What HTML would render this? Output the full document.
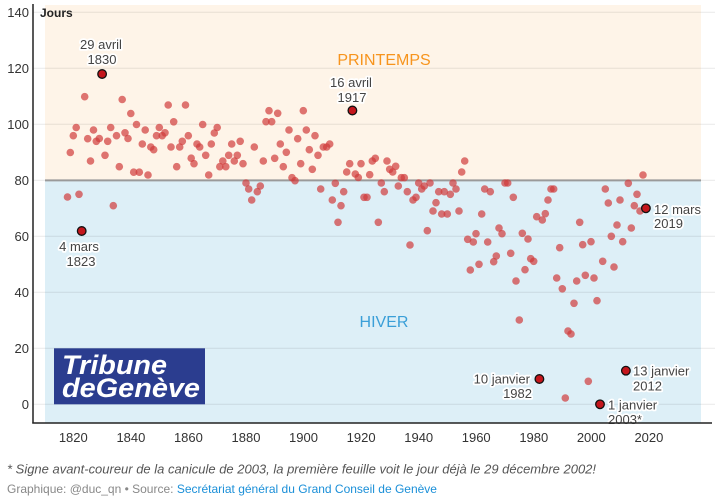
<!DOCTYPE html>
<html><head><meta charset="utf-8"><style>
html,body{margin:0;padding:0;background:#fff;}
svg{display:block;}
text{font-family:"Liberation Sans",sans-serif;}
.t{font-size:13px;fill:#333;}
.lab{font-size:13px;fill:#444;stroke:#fff;stroke-width:3.5px;paint-order:stroke;stroke-linejoin:round;}
</style></head><body>
<svg width="715" height="502" viewBox="0 0 715 502" xmlns="http://www.w3.org/2000/svg">
<rect x="0" y="0" width="715" height="502" fill="#fff"/>
<rect x="45" y="5" width="656" height="175.5" fill="#fef4e8"/>
<rect x="45" y="180.5" width="656" height="242.5" fill="#ddeff7"/>
<g stroke="#000" stroke-opacity="0.09" stroke-width="1">
<line x1="33" y1="12.3" x2="715" y2="12.3"/>
<line x1="33" y1="68.3" x2="715" y2="68.3"/>
<line x1="33" y1="124.3" x2="715" y2="124.3"/>
<line x1="33" y1="180.3" x2="45" y2="180.3"/>
<line x1="701" y1="180.3" x2="715" y2="180.3"/>
<line x1="33" y1="236.3" x2="715" y2="236.3"/>
<line x1="33" y1="292.3" x2="715" y2="292.3"/>
<line x1="33" y1="348.3" x2="715" y2="348.3"/>
<line x1="33" y1="404.3" x2="715" y2="404.3"/>
</g>
<line x1="45" y1="180.4" x2="701" y2="180.4" stroke="#9a9a9a" stroke-width="2"/>
<text x="384" y="65" text-anchor="middle" style="font-size:16px;fill:#f7941d;">PRINTEMPS</text>
<text x="384" y="327" text-anchor="middle" style="font-size:16px;fill:#3a9fd8;">HIVER</text>
<rect x="54" y="348.3" width="151" height="56" fill="#2b3d8f"/>
<text x="62" y="374" textLength="105" lengthAdjust="spacingAndGlyphs" style="font-size:27px;font-weight:bold;font-style:italic;fill:#fff;">Tribune</text>
<text x="62" y="397" textLength="138" lengthAdjust="spacingAndGlyphs" style="font-size:27px;font-weight:bold;font-style:italic;fill:#fff;">deGenève</text>
<g fill="#d03c3c" fill-opacity="0.7">
<circle cx="67.5" cy="197" r="3.8"/><circle cx="70.3" cy="152.5" r="3.8"/><circle cx="73.3" cy="135.7" r="3.8"/><circle cx="76.2" cy="127.5" r="3.8"/><circle cx="79" cy="194.3" r="3.8"/>
<circle cx="84.7" cy="96.7" r="3.8"/><circle cx="87.7" cy="138.7" r="3.8"/><circle cx="90.5" cy="161" r="3.8"/><circle cx="93.5" cy="130" r="3.8"/><circle cx="96.3" cy="141.3" r="3.8"/><circle cx="99.3" cy="138.5" r="3.8"/>
<circle cx="105" cy="155.3" r="3.8"/><circle cx="107.7" cy="141.3" r="3.8"/><circle cx="110.7" cy="127.5" r="3.8"/><circle cx="113.3" cy="205.7" r="3.8"/><circle cx="116.5" cy="135.7" r="3.8"/><circle cx="119.3" cy="166.7" r="3.8"/><circle cx="122.2" cy="99.5" r="3.8"/><circle cx="125" cy="132.8" r="3.8"/><circle cx="128" cy="138.5" r="3.8"/><circle cx="130.8" cy="113.5" r="3.8"/><circle cx="133.7" cy="172.2" r="3.8"/><circle cx="136.5" cy="124.5" r="3.8"/><circle cx="139.3" cy="172.2" r="3.8"/><circle cx="142.3" cy="144" r="3.8"/><circle cx="145.2" cy="130" r="3.8"/><circle cx="148" cy="175" r="3.8"/><circle cx="150.8" cy="147" r="3.8"/><circle cx="153.7" cy="149.7" r="3.8"/><circle cx="156.5" cy="135.7" r="3.8"/><circle cx="159.3" cy="127.5" r="3.8"/><circle cx="162.2" cy="135.7" r="3.8"/><circle cx="165" cy="132.8" r="3.8"/><circle cx="168.2" cy="105" r="3.8"/><circle cx="171" cy="147" r="3.8"/><circle cx="173.7" cy="121.8" r="3.8"/><circle cx="176.7" cy="166.7" r="3.8"/><circle cx="179.7" cy="147" r="3.8"/><circle cx="182.3" cy="141.3" r="3.8"/><circle cx="185.5" cy="105" r="3.8"/><circle cx="188.3" cy="135.7" r="3.8"/><circle cx="191.2" cy="158.2" r="3.8"/><circle cx="194" cy="163.7" r="3.8"/><circle cx="197" cy="144" r="3.8"/><circle cx="199.7" cy="147" r="3.8"/>
<circle cx="202.7" cy="124.5" r="3.8"/><circle cx="205.7" cy="155.3" r="3.8"/><circle cx="208.7" cy="175" r="3.8"/><circle cx="211.3" cy="144" r="3.8"/><circle cx="214.3" cy="133" r="3.8"/><circle cx="217.2" cy="127.5" r="3.8"/><circle cx="219.8" cy="166.7" r="3.8"/><circle cx="222.8" cy="161" r="3.8"/><circle cx="225.8" cy="166.7" r="3.8"/><circle cx="228.7" cy="155.3" r="3.8"/><circle cx="231.7" cy="144" r="3.8"/><circle cx="234.3" cy="161" r="3.8"/><circle cx="237.3" cy="155.3" r="3.8"/><circle cx="240.2" cy="141.3" r="3.8"/><circle cx="243" cy="163.7" r="3.8"/><circle cx="246" cy="183" r="3.8"/><circle cx="248.7" cy="189" r="3.8"/><circle cx="251.7" cy="200" r="3.8"/><circle cx="254.3" cy="147" r="3.8"/><circle cx="257.3" cy="191.7" r="3.8"/><circle cx="260.3" cy="186" r="3.8"/><circle cx="263.3" cy="161" r="3.8"/><circle cx="266" cy="121.7" r="3.8"/><circle cx="269" cy="110.7" r="3.8"/><circle cx="271.7" cy="121.7" r="3.8"/><circle cx="274.7" cy="158.3" r="3.8"/><circle cx="277.7" cy="113.3" r="3.8"/><circle cx="280.3" cy="144" r="3.8"/><circle cx="283.3" cy="166.7" r="3.8"/><circle cx="286.3" cy="152.3" r="3.8"/><circle cx="289" cy="130" r="3.8"/><circle cx="292" cy="177.7" r="3.8"/><circle cx="295" cy="180.7" r="3.8"/><circle cx="297.7" cy="138.7" r="3.8"/><circle cx="300.7" cy="163.7" r="3.8"/><circle cx="303.3" cy="110.7" r="3.8"/><circle cx="306.3" cy="130" r="3.8"/><circle cx="309.3" cy="149.7" r="3.8"/><circle cx="312.3" cy="169.3" r="3.8"/><circle cx="315" cy="135.7" r="3.8"/><circle cx="318" cy="155.3" r="3.8"/><circle cx="320.7" cy="189" r="3.8"/><circle cx="323.3" cy="147" r="3.8"/><circle cx="326.7" cy="147" r="3.8"/><circle cx="329.7" cy="144" r="3.8"/><circle cx="332.3" cy="200" r="3.8"/><circle cx="335.3" cy="183.3" r="3.8"/><circle cx="338" cy="222.3" r="3.8"/><circle cx="341" cy="205.7" r="3.8"/><circle cx="343.7" cy="191.7" r="3.8"/><circle cx="346.7" cy="172" r="3.8"/><circle cx="349.7" cy="163.7" r="3.8"/>
<circle cx="355.3" cy="174" r="3.8"/><circle cx="358.3" cy="177.5" r="3.8"/><circle cx="361" cy="163.7" r="3.8"/><circle cx="364" cy="197.3" r="3.8"/><circle cx="367" cy="197.3" r="3.8"/><circle cx="369.7" cy="174.7" r="3.8"/><circle cx="372.3" cy="161" r="3.8"/><circle cx="375.3" cy="158.3" r="3.8"/><circle cx="378.3" cy="222.3" r="3.8"/><circle cx="381.3" cy="183" r="3.8"/><circle cx="384.3" cy="191.7" r="3.8"/><circle cx="387" cy="161" r="3.8"/><circle cx="389.7" cy="169.3" r="3.8"/><circle cx="392.7" cy="172" r="3.8"/><circle cx="395.7" cy="166.3" r="3.8"/><circle cx="398.3" cy="186" r="3.8"/><circle cx="401.3" cy="177.7" r="3.8"/><circle cx="404.3" cy="177.7" r="3.8"/><circle cx="407.3" cy="191.7" r="3.8"/><circle cx="410" cy="245" r="3.8"/><circle cx="413" cy="200" r="3.8"/><circle cx="416" cy="197.3" r="3.8"/><circle cx="418.7" cy="183" r="3.8"/><circle cx="421.7" cy="189" r="3.8"/><circle cx="424.3" cy="186" r="3.8"/><circle cx="427.3" cy="230.7" r="3.8"/><circle cx="430" cy="183" r="3.8"/><circle cx="433" cy="211" r="3.8"/><circle cx="436" cy="202.7" r="3.8"/><circle cx="438.7" cy="191.7" r="3.8"/><circle cx="441.7" cy="214" r="3.8"/><circle cx="444.3" cy="191.7" r="3.8"/><circle cx="447.3" cy="214" r="3.8"/><circle cx="450.3" cy="194.3" r="3.8"/><circle cx="453" cy="183" r="3.8"/><circle cx="456" cy="189" r="3.8"/><circle cx="459" cy="211" r="3.8"/><circle cx="461.7" cy="172" r="3.8"/><circle cx="464.7" cy="161" r="3.8"/><circle cx="467.7" cy="239.3" r="3.8"/><circle cx="470.3" cy="270" r="3.8"/><circle cx="473.3" cy="242" r="3.8"/><circle cx="476" cy="233.7" r="3.8"/><circle cx="479" cy="264.3" r="3.8"/><circle cx="481.7" cy="214" r="3.8"/><circle cx="484.7" cy="189" r="3.8"/><circle cx="487.7" cy="242" r="3.8"/><circle cx="490.3" cy="191.7" r="3.8"/><circle cx="493.7" cy="261.7" r="3.8"/><circle cx="496.3" cy="256" r="3.8"/><circle cx="499" cy="228" r="3.8"/><circle cx="502" cy="233.7" r="3.8"/><circle cx="505" cy="183" r="3.8"/><circle cx="507.7" cy="183" r="3.8"/><circle cx="510.7" cy="253.3" r="3.8"/><circle cx="513.3" cy="197.3" r="3.8"/><circle cx="516" cy="281" r="3.8"/><circle cx="519.3" cy="320" r="3.8"/><circle cx="522.3" cy="233.3" r="3.8"/><circle cx="525" cy="269.7" r="3.8"/><circle cx="528" cy="239" r="3.8"/><circle cx="530.7" cy="258.7" r="3.8"/><circle cx="533.7" cy="261.3" r="3.8"/><circle cx="536.7" cy="216.7" r="3.8"/><circle cx="542.3" cy="220" r="3.8"/><circle cx="545.3" cy="213.7" r="3.8"/><circle cx="548" cy="200" r="3.8"/><circle cx="551" cy="189" r="3.8"/><circle cx="553.7" cy="189" r="3.8"/><circle cx="556.7" cy="278" r="3.8"/><circle cx="559.7" cy="247.7" r="3.8"/><circle cx="562.3" cy="288.8" r="3.8"/><circle cx="565.3" cy="398" r="3.8"/><circle cx="568" cy="331" r="3.8"/><circle cx="571" cy="334" r="3.8"/><circle cx="574" cy="303.3" r="3.8"/><circle cx="576.7" cy="281" r="3.8"/><circle cx="579.7" cy="222.3" r="3.8"/><circle cx="582.7" cy="244.7" r="3.8"/><circle cx="585.3" cy="275.3" r="3.8"/><circle cx="588.3" cy="381.3" r="3.8"/><circle cx="591" cy="241.7" r="3.8"/><circle cx="594" cy="278" r="3.8"/><circle cx="597" cy="300.7" r="3.8"/><circle cx="602.7" cy="261.3" r="3.8"/><circle cx="605.3" cy="189" r="3.8"/><circle cx="608.3" cy="203" r="3.8"/><circle cx="611.3" cy="236.3" r="3.8"/><circle cx="614" cy="267" r="3.8"/><circle cx="617" cy="225" r="3.8"/><circle cx="620" cy="200" r="3.8"/><circle cx="622.7" cy="241.7" r="3.8"/><circle cx="628.3" cy="183.3" r="3.8"/><circle cx="631.3" cy="228" r="3.8"/><circle cx="634.3" cy="205.7" r="3.8"/><circle cx="637" cy="194.3" r="3.8"/><circle cx="640" cy="211" r="3.8"/><circle cx="643" cy="175" r="3.8"/>
</g>
<text class="lab" x="101" y="49" text-anchor="middle">29 avril</text>
<text class="lab" x="102" y="64" text-anchor="middle">1830</text>
<text class="lab" x="351" y="87" text-anchor="middle">16 avril</text>
<text class="lab" x="352" y="102" text-anchor="middle">1917</text>
<text class="lab" x="79" y="251" text-anchor="middle">4 mars</text>
<text class="lab" x="81" y="266" text-anchor="middle">1823</text>
<text class="lab" x="530" y="383.5" text-anchor="end">10 janvier</text>
<text class="lab" x="532" y="398" text-anchor="end">1982</text>
<text class="lab" x="633" y="375.5">13 janvier</text>
<text class="lab" x="633" y="390.5">2012</text>
<text class="lab" x="608" y="409.5">1 janvier</text>
<text class="lab" x="608" y="424">2003*</text>
<text class="lab" x="654" y="214">12 mars</text>
<text class="lab" x="654" y="228">2019</text>
<g fill="#c4161c" stroke="#111" stroke-width="1.3">
<circle cx="81.7" cy="231" r="4.3"/>
<circle cx="102.1" cy="74" r="4.3"/>
<circle cx="352.4" cy="110.5" r="4.3"/>
<circle cx="539.4" cy="379" r="4.3"/>
<circle cx="600" cy="404.3" r="4.3"/>
<circle cx="625.9" cy="370.7" r="4.3"/>
<circle cx="645.9" cy="208.3" r="4.3"/>
</g>
<line x1="33" y1="4" x2="33" y2="423.5" stroke="#222" stroke-width="1.5"/>
<line x1="32.3" y1="423" x2="712" y2="423" stroke="#222" stroke-width="1.5"/>
<g class="t" text-anchor="end">
<text class="t" x="29" y="17">140</text>
<text class="t" x="29" y="73">120</text>
<text class="t" x="29" y="129">100</text>
<text class="t" x="29" y="185">80</text>
<text class="t" x="29" y="241">60</text>
<text class="t" x="29" y="297">40</text>
<text class="t" x="29" y="353">20</text>
<text class="t" x="29" y="409">0</text>
</g>
<g text-anchor="middle">
<text class="t" x="73.3" y="442">1820</text>
<text class="t" x="130.9" y="442">1840</text>
<text class="t" x="188.4" y="442">1860</text>
<text class="t" x="246" y="442">1880</text>
<text class="t" x="303.5" y="442">1900</text>
<text class="t" x="361.1" y="442">1920</text>
<text class="t" x="418.7" y="442">1940</text>
<text class="t" x="476.2" y="442">1960</text>
<text class="t" x="533.8" y="442">1980</text>
<text class="t" x="591.3" y="442">2000</text>
<text class="t" x="648.9" y="442">2020</text>
</g>
<text x="40" y="17" style="font-size:12px;font-weight:bold;fill:#222;">Jours</text>
<text x="7" y="473.5" textLength="589" lengthAdjust="spacingAndGlyphs" style="font-size:13px;font-style:italic;fill:#555;">* Signe avant-coureur de la canicule de 2003, la première feuille voit le jour déjà le 29 décembre 2002!</text>
<text x="7" y="493" style="font-size:12px;fill:#888;">Graphique: @duc_qn • Source: <tspan style="fill:#1a8fd8;">Secrétariat général du Grand Conseil de Genève</tspan></text>
</svg>
</body></html>
